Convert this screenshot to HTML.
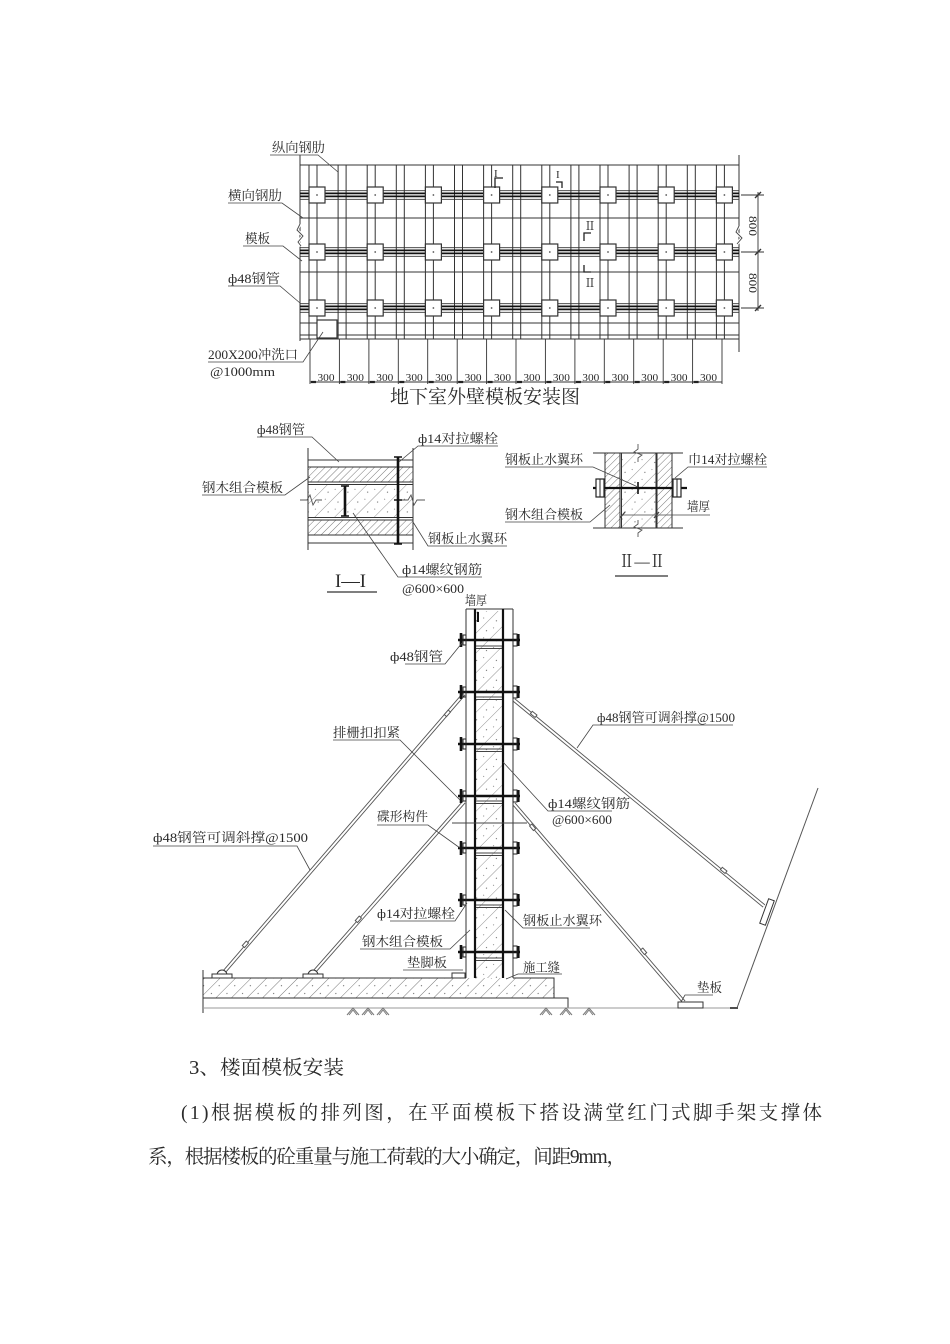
<!DOCTYPE html>
<html><head><meta charset="utf-8"><style>
html,body{margin:0;padding:0;background:#fff;}
svg{display:block;}
text{font-family:"Liberation Serif","Noto Serif CJK SC",serif;fill:#2a2a2a;}
</style></head><body>
<svg width="950" height="1344" viewBox="0 0 950 1344" xmlns="http://www.w3.org/2000/svg">
<defs>
<pattern id="h1" patternUnits="userSpaceOnUse" width="5" height="5" patternTransform="rotate(45)"><line x1="0" y1="0" x2="0" y2="5" stroke="#555" stroke-width="0.8"/></pattern>
<pattern id="c1" patternUnits="userSpaceOnUse" width="14" height="14" patternTransform="rotate(45)"><line x1="0" y1="0" x2="0" y2="14" stroke="#666" stroke-width="0.7"/><circle cx="6" cy="4" r="0.6" fill="#666"/><circle cx="9" cy="11" r="0.5" fill="#666"/></pattern>
<pattern id="f1" patternUnits="userSpaceOnUse" width="11" height="11" patternTransform="rotate(45)"><line x1="0" y1="0" x2="0" y2="11" stroke="#555" stroke-width="0.8"/><circle cx="5" cy="3" r="0.6" fill="#666"/></pattern>
</defs>

<!-- ================= TOP DIAGRAM ================= -->
<g stroke="#333" fill="none" stroke-width="1">
<path d="M300 155V341 M739 155V352"/>
<path d="M300 165H739 M300 218H739 M300 272H739 M300 323H739 M300 335H739 M300 339H739"/>
<path d="M309 165V339 M317 165V339 M338.1 165V339 M346.1 165V339 M367.2 165V339 M375.2 165V339 M396.3 165V339 M404.3 165V339 M425.4 165V339 M433.4 165V339 M454.5 165V339 M462.5 165V339 M483.6 165V339 M491.6 165V339 M512.7 165V339 M520.7 165V339 M541.8 165V339 M549.8 165V339 M570.9 165V339 M578.9 165V339 M600 165V339 M608 165V339 M629.1 165V339 M637.1 165V339 M658.2 165V339 M666.2 165V339 M687.3 165V339 M695.3 165V339 M716.4 165V339 M724.4 165V339"/>
<!-- walers -->
<path d="M300 190.7H739 M300 199.3H739 M300 247.7H739 M300 256.3H739 M300 303.7H739 M300 312.3H739" stroke-width="0.9"/>
<path d="M300 193.4H739 M300 196.4H739 M300 250.4H739 M300 253.4H739 M300 306.4H739 M300 309.4H739" stroke-width="1.8" stroke="#111"/>
</g>
<g fill="#fff" stroke="#333" stroke-width="1.2">
<rect x="309" y="187" width="16" height="16"/><rect x="367.2" y="187" width="16" height="16"/><rect x="425.4" y="187" width="16" height="16"/><rect x="483.6" y="187" width="16" height="16"/><rect x="541.8" y="187" width="16" height="16"/><rect x="600" y="187" width="16" height="16"/><rect x="658.2" y="187" width="16" height="16"/><rect x="716.4" y="187" width="16" height="16"/>
<rect x="309" y="244" width="16" height="16"/><rect x="367.2" y="244" width="16" height="16"/><rect x="425.4" y="244" width="16" height="16"/><rect x="483.6" y="244" width="16" height="16"/><rect x="541.8" y="244" width="16" height="16"/><rect x="600" y="244" width="16" height="16"/><rect x="658.2" y="244" width="16" height="16"/><rect x="716.4" y="244" width="16" height="16"/>
<rect x="309" y="300" width="16" height="16"/><rect x="367.2" y="300" width="16" height="16"/><rect x="425.4" y="300" width="16" height="16"/><rect x="483.6" y="300" width="16" height="16"/><rect x="541.8" y="300" width="16" height="16"/><rect x="600" y="300" width="16" height="16"/><rect x="658.2" y="300" width="16" height="16"/><rect x="716.4" y="300" width="16" height="16"/>
<!-- flush port -->
<rect x="317" y="320" width="20" height="18"/>
</g>
<g fill="#555">
<circle cx="317" cy="195" r="0.9"/><circle cx="375.2" cy="195" r="0.9"/><circle cx="433.4" cy="195" r="0.9"/><circle cx="491.6" cy="195" r="0.9"/><circle cx="549.8" cy="195" r="0.9"/><circle cx="608" cy="195" r="0.9"/><circle cx="666.2" cy="195" r="0.9"/><circle cx="724.4" cy="195" r="0.9"/>
<circle cx="317" cy="252" r="0.9"/><circle cx="375.2" cy="252" r="0.9"/><circle cx="433.4" cy="252" r="0.9"/><circle cx="491.6" cy="252" r="0.9"/><circle cx="549.8" cy="252" r="0.9"/><circle cx="608" cy="252" r="0.9"/><circle cx="666.2" cy="252" r="0.9"/><circle cx="724.4" cy="252" r="0.9"/>
<circle cx="317" cy="308" r="0.9"/><circle cx="375.2" cy="308" r="0.9"/><circle cx="433.4" cy="308" r="0.9"/><circle cx="491.6" cy="308" r="0.9"/><circle cx="549.8" cy="308" r="0.9"/><circle cx="608" cy="308" r="0.9"/><circle cx="666.2" cy="308" r="0.9"/><circle cx="724.4" cy="308" r="0.9"/>
</g>
<!-- break marks -->
<path d="M300 224 L297 230 L303 236 L298 242 L301 246" stroke="#fff" stroke-width="3" fill="none"/>
<path d="M300 224 L297 230 L303 236 L298 242 L301 246" stroke="#444" stroke-width="0.9" fill="none"/>
<path d="M739 226 L736 232 L742 238 L737 244" stroke="#fff" stroke-width="3" fill="none"/>
<path d="M739 226 L736 232 L742 238 L737 244" stroke="#444" stroke-width="0.9" fill="none"/>
<!-- dimension bottom -->
<g stroke="#333" stroke-width="0.9" fill="none">
<path d="M310 339V384 M339.4 339V384 M368.9 339V384 M398.3 339V384 M427.7 339V384 M457.2 339V384 M486.6 339V384 M516 339V384 M545.4 339V384 M574.9 339V384 M604.3 339V384 M633.7 339V384 M663.2 339V384 M692.6 339V384 M722 339V384"/>
<path d="M310 382H722"/>
<path d="M311 382h5 M340.4 382h5 M369.9 382h5 M399.3 382h5 M428.7 382h5 M458.2 382h5 M487.6 382h5 M517 382h5 M546.4 382h5 M575.9 382h5 M605.3 382h5 M634.7 382h5 M664.2 382h5 M693.6 382h5" stroke-width="2.2" stroke="#222"/>
</g>
<g font-size="11" text-anchor="middle">
<text x="326" y="381" textLength="17" lengthAdjust="spacingAndGlyphs">300</text>
<text x="355.4" y="381" textLength="17" lengthAdjust="spacingAndGlyphs">300</text>
<text x="384.8" y="381" textLength="17" lengthAdjust="spacingAndGlyphs">300</text>
<text x="414.2" y="381" textLength="17" lengthAdjust="spacingAndGlyphs">300</text>
<text x="443.7" y="381" textLength="17" lengthAdjust="spacingAndGlyphs">300</text>
<text x="473.1" y="381" textLength="17" lengthAdjust="spacingAndGlyphs">300</text>
<text x="502.5" y="381" textLength="17" lengthAdjust="spacingAndGlyphs">300</text>
<text x="531.9" y="381" textLength="17" lengthAdjust="spacingAndGlyphs">300</text>
<text x="561.4" y="381" textLength="17" lengthAdjust="spacingAndGlyphs">300</text>
<text x="590.8" y="381" textLength="17" lengthAdjust="spacingAndGlyphs">300</text>
<text x="620.2" y="381" textLength="17" lengthAdjust="spacingAndGlyphs">300</text>
<text x="649.7" y="381" textLength="17" lengthAdjust="spacingAndGlyphs">300</text>
<text x="679.1" y="381" textLength="17" lengthAdjust="spacingAndGlyphs">300</text>
<text x="708.5" y="381" textLength="17" lengthAdjust="spacingAndGlyphs">300</text>
</g>
<!-- right dimension -->
<g stroke="#333" stroke-width="0.9" fill="none">
<path d="M741 195H764 M741 252H764 M741 308H764 M758 192V311"/>
<path d="M755 198L761 192 M755 255L761 249 M755 311L761 305" stroke-width="1.4"/>
</g>
<text font-size="12" text-anchor="middle" transform="translate(749,226) rotate(90)" textLength="20" lengthAdjust="spacingAndGlyphs">800</text>
<text font-size="12" text-anchor="middle" transform="translate(749,283) rotate(90)" textLength="20" lengthAdjust="spacingAndGlyphs">800</text>
<!-- section markers -->
<g stroke="#222" stroke-width="1.3" fill="none">
<path d="M495 188V178H503"/>
<path d="M556 182H562V188"/>
<path d="M584 241V233H591"/>
<path d="M584 265V272H591"/>
</g>
<g font-size="11">
<text x="494" y="177">I</text>
<text x="556" y="178">I</text>
<text x="584" y="230" font-size="12">Ⅱ</text>
<text x="584" y="287" font-size="12">Ⅱ</text>
</g>
<!-- labels top -->
<g stroke="#444" stroke-width="0.8" fill="none">
<path d="M270 155H318 L338 172"/>
<path d="M228 203H282 L303 218"/>
<path d="M243 246H283 L302 261"/>
<path d="M228 286H280 L300 303"/>
<path d="M208 362H303 L323 332"/>
</g>
<g font-size="13">
<text x="272" y="152" textLength="53" lengthAdjust="spacingAndGlyphs">纵向钢肋</text>
<text x="228" y="200" textLength="54" lengthAdjust="spacingAndGlyphs">横向钢肋</text>
<text x="245" y="243" textLength="25" lengthAdjust="spacingAndGlyphs">模板</text>
<text x="228" y="283" textLength="52" lengthAdjust="spacingAndGlyphs">ф48钢管</text>
<text x="208" y="359" textLength="90" lengthAdjust="spacingAndGlyphs">200X200冲洗口</text>
<text x="210" y="376" textLength="65" lengthAdjust="spacingAndGlyphs">@1000mm</text>
</g>
<text x="390" y="403" font-size="19" textLength="190" lengthAdjust="spacingAndGlyphs">地下室外壁模板安装图</text>

<!-- ================= SECTION I-I ================= -->
<rect x="308" y="467" width="105" height="15" fill="url(#h1)"/>
<rect x="308" y="520" width="105" height="15" fill="url(#h1)"/>
<rect x="308" y="484" width="105" height="34" fill="url(#c1)"/>
<g stroke="#333" stroke-width="1" fill="none">
<path d="M308 448V550 M413 448V550"/>
<path d="M308 460H413 M308 467H413 M308 482H413 M308 484.5H413 M308 517.5H413 M308 520H413 M308 535H413 M308 543H413"/>
</g>
<path d="M300 500H307 L310 495 L313 505 L316 500 H322" stroke="#555" stroke-width="0.9" fill="none"/>
<path d="M402 500H408 L411 495 L414 505 L417 500 H425" stroke="#555" stroke-width="0.9" fill="none"/>
<path d="M398 457V544" stroke="#111" stroke-width="2.6"/>
<path d="M394 457H402 M394 544H402 M394 500H402" stroke="#111" stroke-width="1.6"/>
<path d="M345 486V516" stroke="#111" stroke-width="2.6"/>
<path d="M341 486H349 M341 516H349" stroke="#111" stroke-width="1.4"/>
<g stroke="#444" stroke-width="0.8" fill="none">
<path d="M257 437H312 L339 462"/>
<path d="M498 446H418 L399 462"/>
<path d="M202 495H285 L310 477"/>
<path d="M507 546H428 L413 522"/>
<path d="M482 577H398 L353 513"/>
</g>
<g font-size="13">
<text x="257" y="434" textLength="48" lengthAdjust="spacingAndGlyphs">ф48钢管</text>
<text x="418" y="443" textLength="80" lengthAdjust="spacingAndGlyphs">ф14对拉螺栓</text>
<text x="202" y="492" textLength="81" lengthAdjust="spacingAndGlyphs">钢木组合模板</text>
<text x="428" y="543" textLength="79" lengthAdjust="spacingAndGlyphs">钢板止水翼环</text>
<text x="402" y="574" textLength="80" lengthAdjust="spacingAndGlyphs">ф14螺纹钢筋</text>
<text x="402" y="593" textLength="62" lengthAdjust="spacingAndGlyphs">@600×600</text>
</g>
<text x="335" y="587" font-size="19" textLength="31" lengthAdjust="spacingAndGlyphs">I—I</text>
<path d="M327 592H377" stroke="#333" stroke-width="1.2"/>

<!-- ================= SECTION II-II ================= -->
<rect x="605" y="453" width="15" height="75" fill="url(#h1)" stroke="#333" stroke-width="1"/>
<rect x="657" y="453" width="15" height="75" fill="url(#h1)" stroke="#333" stroke-width="1"/>
<rect x="622" y="453" width="34" height="75" fill="url(#c1)"/>
<g stroke="#333" stroke-width="1" fill="none">
<path d="M593 453H683 M593 528H683 M621.5 453V528 M656 453V528"/>
</g>
<path d="M638 444V449 L634 452 L642 455 L638 458V462" stroke="#555" stroke-width="0.9" fill="none"/>
<path d="M638 520V524 L634 527 L642 530 L638 533V537" stroke="#555" stroke-width="0.9" fill="none"/>
<path d="M593 488H687" stroke="#111" stroke-width="2.2"/>
<g fill="#fff" stroke="#222" stroke-width="1.2">
<rect x="596" y="479" width="8" height="18"/>
<rect x="673" y="479" width="8" height="18"/>
</g>
<path d="M600 479V497 M677 479V497" stroke="#222" stroke-width="1"/>
<path d="M638 482V494" stroke="#111" stroke-width="1.6"/>
<g stroke="#444" stroke-width="0.8" fill="none">
<path d="M505 467H593 L638 487"/>
<path d="M767 467H688 L675 478"/>
<path d="M505 522H590 L610 505"/>
<path d="M622 515H710"/>
<path d="M620 518L625 512 M654 518L659 512" stroke-width="1.3"/>
</g>
<g font-size="13">
<text x="505" y="464" textLength="78" lengthAdjust="spacingAndGlyphs">钢板止水翼环</text>
<text x="688" y="464" textLength="79" lengthAdjust="spacingAndGlyphs">巾14对拉螺栓</text>
<text x="505" y="519" textLength="78" lengthAdjust="spacingAndGlyphs">钢木组合模板</text>
<text x="687" y="511" textLength="23" lengthAdjust="spacingAndGlyphs">墙厚</text>
</g>
<text x="619" y="567" font-size="17" textLength="46" lengthAdjust="spacingAndGlyphs">Ⅱ—Ⅱ</text>
<path d="M615 576H668" stroke="#333" stroke-width="1.2"/>

<!-- ================= BOTTOM DIAGRAM ================= -->
<!-- footing -->
<polygon points="203,978 554,978 554,998 203,998" fill="url(#f1)"/>
<rect x="476" y="611" width="26" height="367" fill="url(#c1)"/>
<g stroke="#333" stroke-width="1" fill="none">
<path d="M203 978H466 M513 978H554 V998 M203 998H568 V1008 M203 970V1013"/>
<path d="M466 609H513 M466 609V978 M513 609V978"/>
</g>
<path d="M203 1008H730" stroke="#999" stroke-width="1"/>
<path d="M730 1008H738" stroke="#222" stroke-width="1.6"/>
<path d="M737 1008L818 788" stroke="#555" stroke-width="1" fill="none"/>
<path d="M475 609V978 M503 609V978" stroke="#111" stroke-width="2.2"/>
<!-- panel joints -->
<g stroke="#444" stroke-width="0.9">
<path d="M476 646H502 M476 648.5H502 M476 697H502 M476 699.5H502 M476 749H502 M476 751.5H502 M476 801H502 M476 803.5H502 M476 853H502 M476 855.5H502 M476 905H502 M476 907.5H502 M476 958H502 M476 960.5H502"/>
</g>
<path d="M478 612V622" stroke="#111" stroke-width="2"/>
<!-- soil symbols -->
<g stroke="#777" stroke-width="1" fill="none">
<path d="M347 1015L353 1008L359 1015 M349 1015L353 1010L357 1015"/>
<path d="M362 1015L368 1008L374 1015 M364 1015L368 1010L372 1015"/>
<path d="M377 1015L383 1008L389 1015 M379 1015L383 1010L387 1015"/>
<path d="M540 1015L546 1008L552 1015 M542 1015L546 1010L550 1015"/>
<path d="M560 1015L566 1008L572 1015 M562 1015L566 1010L570 1015"/>
<path d="M583 1015L589 1008L595 1015 M585 1015L589 1010L593 1015"/>
</g>
<!-- braces -->
<g fill="none" stroke-linecap="butt">
<path d="M464 694L224 972 M464 802L314 972 M514 700L764 906 M514 804L684 1002" stroke="#555" stroke-width="3.8"/>
<path d="M464 694L224 972 M464 802L314 972 M514 700L764 906 M514 804L684 1002" stroke="#fff" stroke-width="2"/>
</g>
<g stroke="#555" stroke-width="1" fill="#fff">
<rect x="444" y="712" width="6" height="3" transform="rotate(-49 447 713)"/>
<rect x="242" y="943" width="6" height="3" transform="rotate(-49 245 944)"/>
<rect x="355" y="918" width="6" height="3" transform="rotate(-49 358 919)"/>
<rect x="531" y="713" width="6" height="3" transform="rotate(39 534 714)"/>
<rect x="721" y="869" width="6" height="3" transform="rotate(39 724 870)"/>
<rect x="530" y="826" width="6" height="3" transform="rotate(50 533 827)"/>
<rect x="641" y="950" width="6" height="3" transform="rotate(50 644 951)"/>
</g>
<!-- base plates -->
<g stroke="#333" stroke-width="1" fill="#fff">
<path d="M217 975 A5 5 0 0 1 227 975"/>
<rect x="212" y="974" width="20" height="4"/>
<path d="M308 975 A5 5 0 0 1 318 975"/>
<rect x="303" y="974" width="20" height="4"/>
<rect x="452" y="973" width="13" height="5"/>
<rect x="678" y="1002" width="25" height="6"/>
<rect x="764" y="899" width="6" height="26" transform="rotate(20 767 912)"/>
</g>
<!-- bolts -->
<g stroke="#111" stroke-width="2.4">
<path d="M458 640H520 M458 692H520 M458 744H520 M458 796H520 M458 848H520 M458 900H520 M458 952H520"/>
<path d="M461 633V647 M461 685V699 M461 737V751 M461 789V803 M461 841V855 M461 893V907 M461 945V959" stroke-width="2.6"/>
<path d="M518.5 634V646 M518.5 686V698 M518.5 738V750 M518.5 790V802 M518.5 842V854 M518.5 894V906 M518.5 946V958" stroke-width="2.2"/>
</g>
<g stroke="#222" stroke-width="1" fill="none">
<rect x="463" y="635" width="3" height="10"/><rect x="463" y="687" width="3" height="10"/><rect x="463" y="739" width="3" height="10"/><rect x="463" y="791" width="3" height="10"/><rect x="463" y="843" width="3" height="10"/><rect x="463" y="895" width="3" height="10"/><rect x="463" y="947" width="3" height="10"/>
<rect x="513" y="634" width="4" height="12"/><rect x="513" y="686" width="4" height="12"/><rect x="513" y="738" width="4" height="12"/><rect x="513" y="790" width="4" height="12"/><rect x="513" y="842" width="4" height="12"/><rect x="513" y="894" width="4" height="12"/><rect x="513" y="946" width="4" height="12"/>
</g>
<path d="M452 823H527" stroke="#444" stroke-width="0.9"/>
<!-- leaders bottom -->
<g stroke="#444" stroke-width="0.8" fill="none">
<path d="M405 664H445 L462 643"/>
<path d="M333 740H400 L460 800"/>
<path d="M377 825H428 L460 848"/>
<path d="M153 846H297 L310 870"/>
<path d="M390 921H455 L467 903"/>
<path d="M360 949H450 L470 930"/>
<path d="M403 970H463"/>
<path d="M733 725H593 L577 748"/>
<path d="M612 811H548 L503 762"/>
<path d="M590 928H523 L505 910"/>
<path d="M562 974H518 L506 979"/>
<path d="M713 995H685 L681 1002"/>
</g>
<g font-size="13">
<text x="465" y="605" textLength="22" lengthAdjust="spacingAndGlyphs">墙厚</text>
<text x="390" y="661" textLength="53" lengthAdjust="spacingAndGlyphs">ф48钢管</text>
<text x="333" y="737" textLength="67" lengthAdjust="spacingAndGlyphs">排栅扣扣紧</text>
<text x="377" y="821" textLength="51" lengthAdjust="spacingAndGlyphs">碟形构件</text>
<text x="153" y="842" textLength="155" lengthAdjust="spacingAndGlyphs">ф48钢管可调斜撑@1500</text>
<text x="377" y="918" textLength="78" lengthAdjust="spacingAndGlyphs">ф14对拉螺栓</text>
<text x="362" y="946" textLength="81" lengthAdjust="spacingAndGlyphs">钢木组合模板</text>
<text x="407" y="967" textLength="40" lengthAdjust="spacingAndGlyphs">垫脚板</text>
<text x="597" y="722" textLength="138" lengthAdjust="spacingAndGlyphs">ф48钢管可调斜撑@1500</text>
<text x="548" y="808" textLength="82" lengthAdjust="spacingAndGlyphs">ф14螺纹钢筋</text>
<text x="552" y="824" textLength="60" lengthAdjust="spacingAndGlyphs">@600×600</text>
<text x="523" y="925" textLength="79" lengthAdjust="spacingAndGlyphs">钢板止水翼环</text>
<text x="523" y="972" textLength="37" lengthAdjust="spacingAndGlyphs">施工缝</text>
<text x="697" y="992" textLength="25" lengthAdjust="spacingAndGlyphs">垫板</text>
</g>

<!-- ================= PARAGRAPH ================= -->
<g font-size="19.5" fill="#1a1a1a">
<text x="189" y="1074" textLength="155" lengthAdjust="spacingAndGlyphs">3、楼面模板安装</text>
<text x="181" y="1119" textLength="641" lengthAdjust="spacing">(1)根据模板的排列图，在平面模板下搭设满堂红门式脚手架支撑体</text>
<text x="148" y="1163" textLength="478" lengthAdjust="spacing">系，根据楼板的砼重量与施工荷载的大小确定，间距9mm，</text>
</g>
</svg>
</body></html>
